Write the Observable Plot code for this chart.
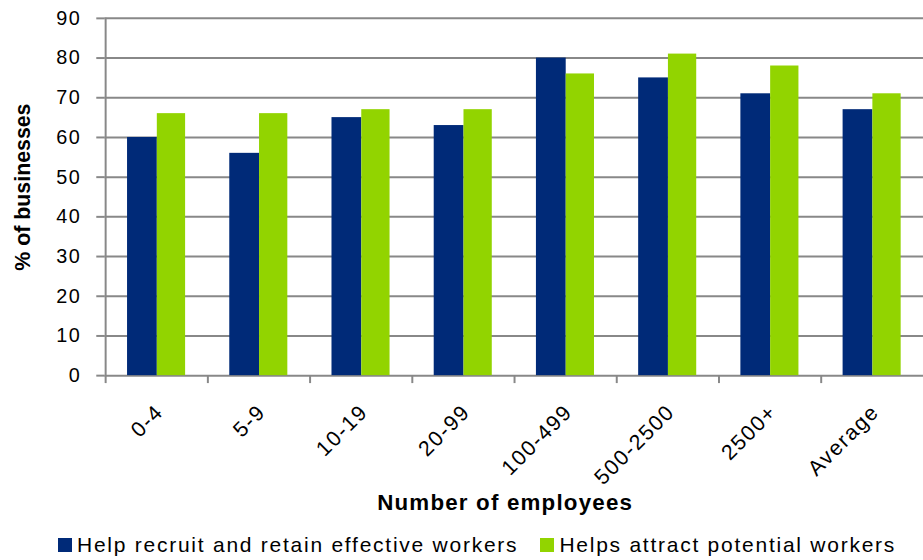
<!DOCTYPE html>
<html><head><meta charset="utf-8">
<script src="https://cdn.jsdelivr.net/npm/d3@7"></script>
<script src="https://cdn.jsdelivr.net/npm/@observablehq/plot@0.6"></script>
<style>
html,body{margin:0;padding:0;overflow:hidden;background:#fff;font-family:"Liberation Sans",Arial,sans-serif;}
#chart svg{display:block;}
#chart svg g[aria-label="y-axis tick label"]{letter-spacing:1.5px;}
#chart svg g[aria-label="x-axis tick label"]{letter-spacing:1.6px;}
#chart svg g[aria-label="text"]{letter-spacing:1.2px;}
#legend{position:absolute;left:58px;top:534px;display:flex;align-items:center;height:21px;line-height:21px;font-size:21px;letter-spacing:1.75px;color:#000;white-space:nowrap;}
.item{display:flex;align-items:center;margin-right:22px;}
.sw{width:14px;height:14px;margin-right:5px;flex:none;}
</style></head><body>
<div id="chart"></div>
<div id="legend"></div>
<script>
const categories = ["0-4","5-9","10-19","20-99","100-499","500-2500","2500+","Average"];
const recruitRetain = [60,56,65,63,80,75,71,67];
const attractPotential = [66,66,67,67,76,81,78,71];
const seriesNames = ["Help recruit and retain effective workers","Helps attract potential workers"];
const seriesColors = ["#002a78","#92d400"];
const yTicks = [0,10,20,30,40,50,60,70,80,90];
const xTitle = "Number of employees";
const yTitle = "% of businesses";

const W = 930, H = 528, mL = 105, mR = 0, mT = 18, mB = 150;
const step = (W - mL - mR) / categories.length;
const gray = "#888888";

const chart = Plot.plot({
  width: W, height: H,
  marginLeft: mL, marginRight: mR, marginTop: mT, marginBottom: mB,
  style: {fontFamily: "Liberation Sans, Arial, sans-serif", fontSize: "20px", color: "#000", background: "#fff"},
  x: {type: "band", domain: categories, padding: 0, label: null},
  y: {domain: [0, 90], label: null},
  marks: [
    Plot.gridY(yTicks, {stroke: gray, strokeOpacity: 1, strokeWidth: 2}),
    Plot.barY(categories, {x: d => d, y: (d, i) => recruitRetain[i], fill: seriesColors[0], insetLeft: 22, insetRight: 51}),
    Plot.barY(categories, {x: d => d, y: (d, i) => attractPotential[i], fill: seriesColors[1], insetLeft: 52, insetRight: 22.5}),
    Plot.ruleX([categories[0]], {x: d => d, dx: -step / 2, stroke: gray, strokeWidth: 2}),
    Plot.axisY({ticks: yTicks, tickSize: 8, tickPadding: 15.5, stroke: gray, strokeWidth: 2, fontSize: 20, label: null}),
    Plot.axisX({tickSize: 8, tickFormat: () => "", dx: -step / 2, stroke: gray, strokeWidth: 2, label: null}),
    Plot.axisX({tickSize: 0, tickRotate: -45, tickPadding: 33, dx: 3, fontSize: 21.5, label: null}),
    Plot.text([xTitle], {frameAnchor: "bottom", textAnchor: "middle", dx: -9, dy: 135, fontWeight: "bold", fontSize: 22.5, fill: "#000"}),
    Plot.text([yTitle], {frameAnchor: "left", textAnchor: "middle", rotate: -90, dx: -82, dy: -10, fontWeight: "bold", fontSize: 21.5, fill: "#000"})
  ]
});
chart.querySelectorAll("text").forEach(t => {
  if (t.textContent === yTitle) t.style.letterSpacing = "0px";
});
document.getElementById("chart").append(chart);

const lg = document.getElementById("legend");
seriesNames.forEach((n, i) => {
  const it = document.createElement("div"); it.className = "item";
  const sw = document.createElement("div"); sw.className = "sw"; sw.style.background = seriesColors[i];
  const tx = document.createElement("span"); tx.textContent = n;
  it.append(sw, tx); lg.append(it);
});
</script>
</body></html>
